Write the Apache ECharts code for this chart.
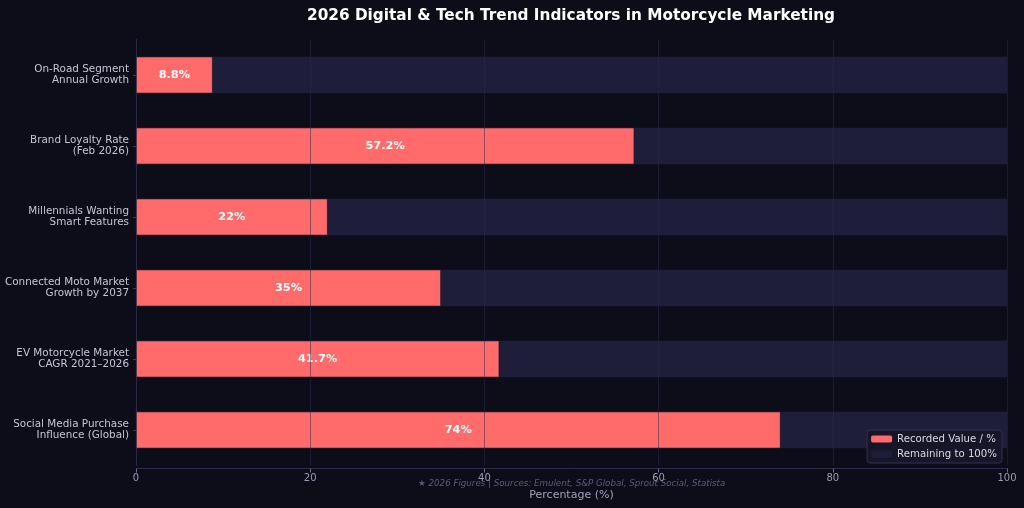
<!DOCTYPE html>
<html>
<head>
<meta charset="utf-8">
<script src="https://cdn.jsdelivr.net/npm/echarts@6/dist/echarts.min.js"></script>
<style>
  html, body { margin: 0; padding: 0; background: #0d0d1a; }
  #chart { width: 1024px; height: 508px; }
</style>
</head>
<body>
<div id="chart"></div>
<script>
// categories top to bottom
const categories = [
  'On-Road Segment\nAnnual Growth',
  'Brand Loyalty Rate\n(Feb 2026)',
  'Millennials Wanting\nSmart Features',
  'Connected Moto Market\nGrowth by 2037',
  'EV Motorcycle Market\nCAGR 2021–2026',
  'Social Media Purchase\nInfluence (Global)'
];
const recorded = [8.8, 57.2, 22, 35, 41.7, 74];
const remaining = recorded.map(v => +(100 - v).toFixed(1));

const font = '"DejaVu Sans", sans-serif';
const chart = echarts.init(document.getElementById('chart'));

chart.setOption({
  backgroundColor: '#0d0d1a',
  animation: false,
  textStyle: { fontFamily: font },
  title: {
    text: '2026 Digital & Tech Trend Indicators in Motorcycle Marketing',
    left: 566,
    textAlign: 'center',
    top: 4,
    textStyle: { color: '#ffffff', fontSize: 15.3, fontWeight: 'bold', fontFamily: font }
  },
  graphic: [{
    type: 'text',
    left: 418,
    top: 479.5,
    style: {
      text: '★ 2026 Figures | Sources: Emulent, S&P Global, Sprout Social, Statista',
      fill: '#5c5c7c',
      font: 'italic 8.7px "DejaVu Sans", sans-serif'
    }
  }],
  legend: {
    orient: 'vertical',
    right: 22,
    bottom: 45,
    itemWidth: 21,
    itemHeight: 7,
    itemGap: 5,
    padding: [4, 5, 4, 4],
    backgroundColor: '#161628',
    borderColor: '#30304e',
    borderWidth: 1,
    borderRadius: 3,
    itemStyle: { borderWidth: 0 },
    textStyle: { color: '#d8d8e4', fontSize: 10.2, fontFamily: font },
    data: ['Recorded Value / %', 'Remaining to 100%']
  },
  grid: { left: 136, right: 17, top: 39.5, bottom: 42.5, containLabel: false, outerBoundsMode: 'none' },
  xAxis: {
    type: 'value',
    min: 0, max: 100, interval: 20,
    z: 5,
    offset: 3,
    name: 'Percentage (%)',
    nameLocation: 'middle',
    nameGap: 21,
    nameTextStyle: { color: '#a0a0b8', fontSize: 11, fontFamily: font },
    axisLine: { show: true, lineStyle: { color: '#2c2c4a' } },
    axisTick: { show: true, length: 4, lineStyle: { color: '#6a6a88' } },
    axisLabel: { color: '#9a9ab4', fontSize: 10, margin: 5, fontFamily: font },
    splitLine: { show: true, lineStyle: { color: 'rgba(40,40,70,0.5)', width: 1 } }
  },
  yAxis: {
    type: 'category',
    inverse: true,
    data: categories,
    axisLine: { show: true, lineStyle: { color: '#2c2c4a' } },
    axisTick: { show: true, alignWithLabel: true, length: 3, lineStyle: { color: '#3a3a58' } },
    axisLabel: { color: '#c4c4d4', fontSize: 10.4, lineHeight: 11.5, margin: 7, align: 'right', fontFamily: font },
    splitLine: { show: false }
  },
  series: [
    {
      name: 'Recorded Value / %',
      type: 'bar',
      stack: 'total',
      barWidth: '51.5%',
      data: recorded,
      itemStyle: { color: '#ff6b6b', borderColor: '#3a2a40', borderWidth: 0.6 },
      label: {
        show: true,
        position: 'inside',
        color: '#ffffff',
        fontWeight: 'bold',
        fontSize: 11.3,
        fontFamily: font,
        formatter: p => p.value + '%'
      }
    },
    {
      name: 'Remaining to 100%',
      type: 'bar',
      stack: 'total',
      barWidth: '51.5%',
      data: remaining,
      itemStyle: { color: '#1e1e3a' }
    }
  ]
});
</script>
</body>
</html>
